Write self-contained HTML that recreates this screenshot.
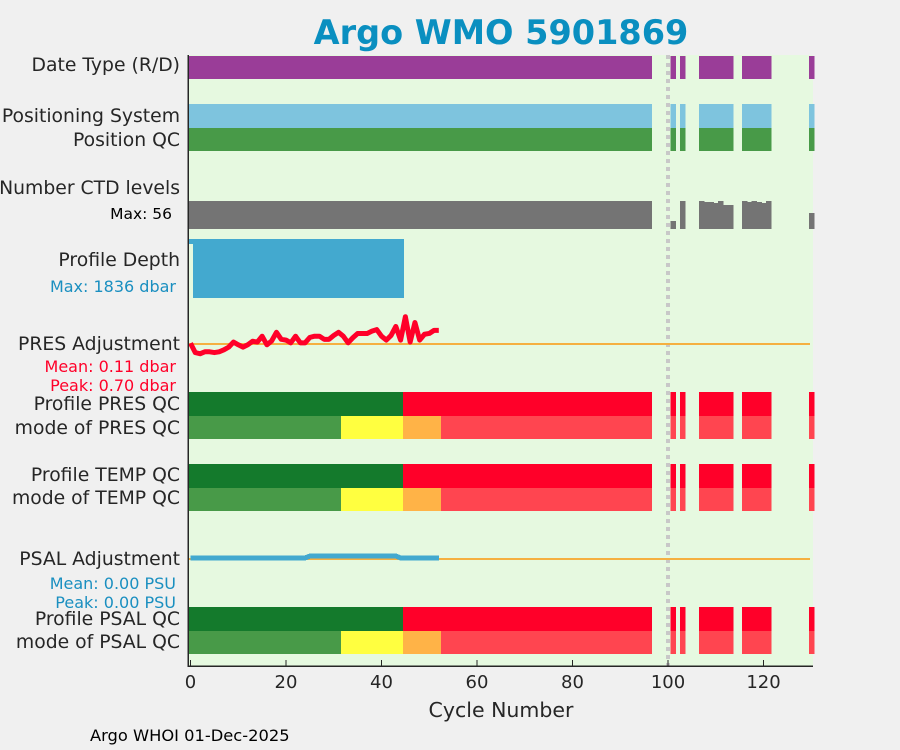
<!DOCTYPE html>
<html><head><meta charset="utf-8"><style>
body{margin:0;background:#f0f0f0;}
svg{display:block;font-family:"DejaVu Sans","Liberation Sans",sans-serif;}
</style></head><body>
<svg id="c" width="900" height="750" shape-rendering="crispEdges"></svg>
<script>
const cycles=[];for(let i=0;i<=96;i++)cycles.push(i);cycles.push(101,103,107,108,109,110,111,112,113,116,117,118,119,120,121,130);
const ctdLevels={101:16,107:56,108:54,109:54,110:52,111:56,112:48,113:48,116:56,117:54,118:56,119:54,120:52,121:56,130:32};
const depthCycles=[0,44];
const depthValues=[150,1836];
const presAdj=[0.02,-0.22,-0.25,-0.2,-0.2,-0.22,-0.2,-0.15,-0.08,0.05,-0.02,-0.08,-0.02,0.07,0.05,0.2,-0.02,0.08,0.3,0.12,0.1,0.03,0.2,0.03,0.03,0.17,0.2,0.2,0.12,0.12,0.22,0.3,0.2,0.03,0.16,0.27,0.27,0.27,0.33,0.37,0.2,0.1,0.22,0.45,0.1,0.7,0.05,0.55,0.1,0.25,0.27,0.35,0.35];
const psalAdj=presAdj.map((v,i)=>(i>=25&&i<44)?0.02:0);
const xTicks=[0,20,40,60,80,100,120];
const qcBreaks=[44,96];
const modeBreaks=[31,44,52];
const NS='http://www.w3.org/2000/svg';const svg=document.getElementById('c');
function X(c){return 190.5+c*4.775;}
function el(t,a,p){const e=document.createElementNS(NS,t);for(const k in a)e.setAttribute(k,a[k]);(p||svg).appendChild(e);return e;}
const bg=el('rect',{x:188,y:55,width:625,height:611,fill:'#e6f9e0'});

const grid=el('line',{x1:X(100),x2:X(100),y1:55,y2:666,stroke:'#c8c8c8','stroke-width':4,'stroke-dasharray':'4 4'});

function bar(c,y,h,fill,name){const r=el('rect',{x:Math.max(188,X(c)-2.4),y:y,width:5.6,height:h,fill:fill});return r;}
cycles.forEach(c=>{
 bar(c,56,23,'#9a3d98','date-type-bar');
 bar(c,104,24,'#7ec4de','positioning-bar');
 bar(c,128,23,'#489a48','position-qc-bar');
 const lv=ctdLevels[c]!==undefined?ctdLevels[c]:56;const h=28*lv/56;
 bar(c,229-h,h,'#747474','ctd-levels-bar');
 const pq=c<=qcBreaks[0]?'#147a2c':'#ff0029';
 const mq=c<=modeBreaks[0]?'#489a48':c<=modeBreaks[1]?'#ffff40':c<=modeBreaks[2]?'#ffb347':'#ff4550';
 [[392,'pres'],[464,'temp'],[607,'psal']].forEach(([y,n])=>{bar(c,y,24,pq,'profile-'+n+'-qc-bar');bar(c,y+24,23,mq,'mode-'+n+'-qc-bar');});
});
for(let c=0;c<=depthCycles[1];c++){const d=c===0?depthValues[0]:depthValues[1];const h=59*d/1836;bar(c,239,h,'#43a9cf','profile-depth-bar');}
[344,559].forEach((y,i)=>{const l=el('line',{x1:188,x2:810,y1:y,y2:y,stroke:'#f5b041','stroke-width':2});});
const pp=el('polyline',{points:presAdj.map((v,i)=>X(i)+','+(344-v*39)).join(' '),fill:'none',stroke:'#ff0029','stroke-width':5,'stroke-linejoin':'round','shape-rendering':'auto'});

const sp=el('polyline',{points:psalAdj.map((v,i)=>X(i)+','+(558-v*100)).join(' '),fill:'none',stroke:'#43a9cf','stroke-width':5});

const ax=el('path',{d:'M188,55 V666 H813',fill:'none',stroke:'#262626','stroke-width':1.5});

xTicks.forEach(t=>{el('line',{x1:X(t),x2:X(t),y1:666,y2:660,stroke:'#262626'});
 const tx=el('text',{x:X(t),y:688,'text-anchor':'middle','font-size':18,fill:'#262626'});tx.textContent=t;
 });
function txt(s,x,y,size,fill,anchor,name,weight){const t=el('text',{x:x,y:y,'font-size':size,fill:fill,'text-anchor':anchor||'end','font-weight':weight||'normal'});t.textContent=s;}
txt('Argo WMO 5901869',501,44,33.5,'#0a8fc0','middle','chart-title','bold');
txt('Cycle Number',501,717,20.5,'#262626','middle','x-axis-title');
txt('Argo WHOI 01-Dec-2025',90,741,16.3,'#000','start','footer-credit');
const L=[['Date Type (R/D)',71,'date-type-label'],['Positioning System',122,'positioning-label'],['Position QC',146,'position-qc-label'],['Number CTD levels',194,'ctd-levels-label'],['Profile Depth',266,'profile-depth-label'],['PRES Adjustment',350,'pres-adjustment-label'],['Profile PRES QC',410,'profile-pres-qc-label'],['mode of PRES QC',434,'mode-pres-qc-label'],['Profile TEMP QC',481,'profile-temp-qc-label'],['mode of TEMP QC',504,'mode-temp-qc-label'],['PSAL Adjustment',565,'psal-adjustment-label'],['Profile PSAL QC',625,'profile-psal-qc-label'],['mode of PSAL QC',648,'mode-psal-qc-label']];
L.forEach(l=>txt(l[0],180,l[1],18.8,'#262626','end',l[2]));
txt('Max: 56',172,219,15.5,'#000','end','ctd-max-note');
txt('Max: 1836 dbar',176,292,16,'#1a8fc0','end','depth-max-note');
txt('Mean: 0.11 dbar',176,372,16,'#ff0029','end','pres-mean-note');
txt('Peak: 0.70 dbar',176,391,16,'#ff0029','end','pres-peak-note');
txt('Mean: 0.00 PSU',176,589,16,'#1a8fc0','end','psal-mean-note');
txt('Peak: 0.00 PSU',176,608,16,'#1a8fc0','end','psal-peak-note');
</script>
</body></html>
